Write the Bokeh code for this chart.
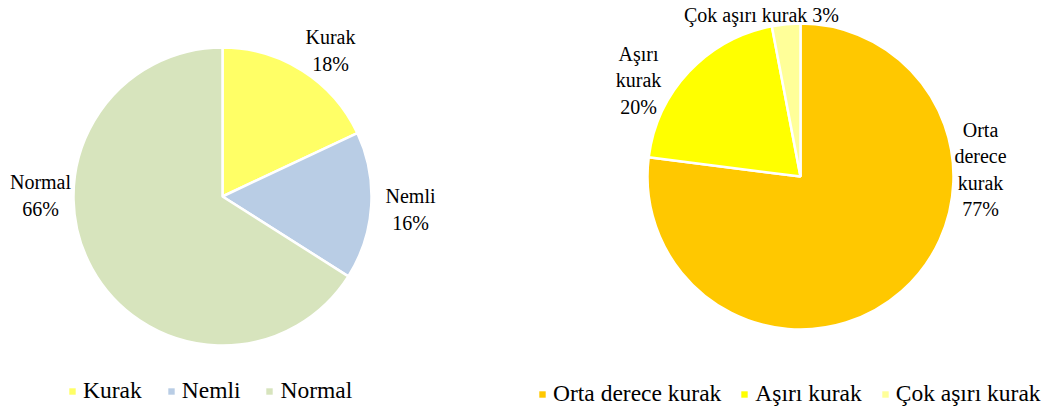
from math import pi

from bokeh.core.properties import value
from bokeh.embed import file_html
from bokeh.layouts import row
from bokeh.models import ColumnDataSource, Legend, LegendItem, Range1d
from bokeh.plotting import figure
from bokeh.resources import INLINE

# Left pie: humidity classes
hum_names = ["Kurak", "Nemli", "Normal"]
hum_pct = [18, 16, 66]
hum_colors = ["#FFFF66", "#B9CDE5", "#D7E4BD"]
hum_labels = ["Kurak\n18%", "Nemli\n16%", "Normal\n66%"]

# Right pie: drought severity within the dry class
dry_names = ["Orta derece kurak", "Aşırı kurak", "Çok aşırı kurak"]
dry_pct = [77, 20, 3]
dry_colors = ["#FFC800", "#FFFF00", "#FFFF99"]
dry_labels = ["Orta\nderece\nkurak\n77%", "Aşırı\nkurak\n20%", "Çok aşırı kurak 3%"]

FONT = "Times New Roman"
W, H = 526, 408


def make_pie(names, pct, colors, labels, center, radius, label_pos,
             legend_loc, legend_spacing):
    p = figure(width=W, height=H, output_backend="svg", toolbar_location=None,
               x_range=Range1d(0, W), y_range=Range1d(0, H),
               min_border=0, outline_line_color=None)
    p.axis.visible = False
    p.grid.visible = False

    total = float(sum(pct))
    starts, ends = [], []
    acc = 0.0
    for v in pct:
        starts.append(pi / 2 - 2 * pi * acc / total)
        acc += v
        ends.append(pi / 2 - 2 * pi * acc / total)

    src = ColumnDataSource(dict(name=names, pct=pct, color=colors,
                                start=starts, end=ends))
    cx, cy = center
    p.wedge(x=cx, y=cy, radius=radius, start_angle="start", end_angle="end",
            direction="clock", fill_color="color", line_color="white",
            line_width=2.5, source=src)

    # zero-size rects: only used as square swatches in the legend
    swatch = p.rect(x=cx, y=cy, width=0, height=0, fill_color="color",
                    line_color=None, source=src)

    lsrc = ColumnDataSource(dict(x=[cx + dx for dx, _ in label_pos],
                                 y=[cy + dy for _, dy in label_pos],
                                 text=labels))
    p.text(x="x", y="y", text="text", source=lsrc, text_align="center",
           text_baseline="middle", text_font=value(FONT),
           text_font_size="20px", text_color="black", text_line_height=1.2)

    items = [LegendItem(label=n, renderers=[swatch], index=i)
             for i, n in enumerate(names)]
    legend = Legend(items=items, orientation="horizontal", location=legend_loc,
                    glyph_width=8, glyph_height=8, label_height=24,
                    label_standoff=7, spacing=legend_spacing, padding=0, margin=0,
                    border_line_color=None, background_fill_alpha=0,
                    label_text_font=FONT, label_text_font_size="23.5px",
                    label_text_color="black")
    p.add_layout(legend)
    return p


left = make_pie(hum_names, hum_pct, hum_colors, hum_labels,
                center=(222, 212), radius=149,
                label_pos=[(108, 146), (188, -13), (-182, 1)],
                legend_loc=(68, 4), legend_spacing=25)

right = make_pie(dry_names, dry_pct, dry_colors, dry_labels,
                 center=(274, 232), radius=153,
                 label_pos=[(180, 7), (-162, 96), (-39, 162)],
                 legend_loc=(12, 1), legend_spacing=19)

layout = row(left, right, spacing=0)

with open("out.html", "w") as f:
    f.write(file_html(layout, INLINE))
